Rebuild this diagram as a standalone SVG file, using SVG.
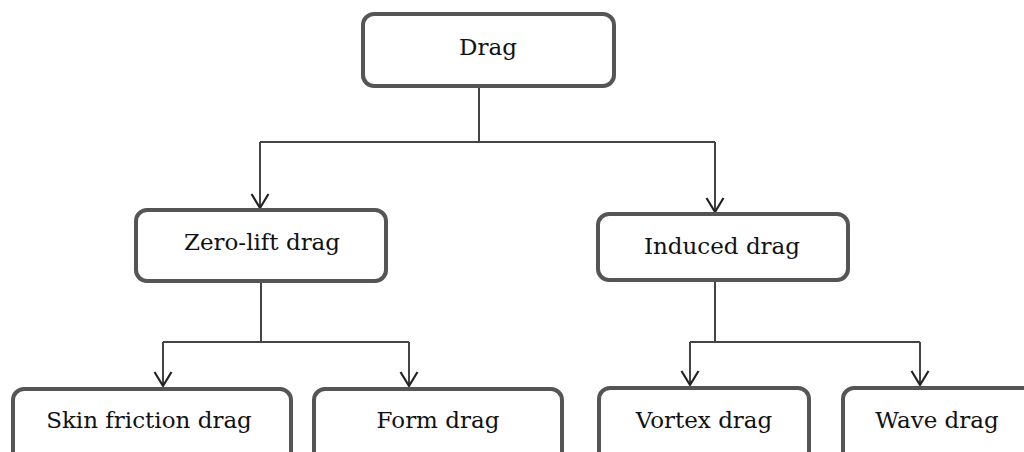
<svg xmlns="http://www.w3.org/2000/svg" width="1024" height="452" viewBox="0 0 1024 452">
<style>
.box{fill:#fff;stroke:#555;stroke-width:4}
.lbl{font-family:"DejaVu Serif","Liberation Serif",serif;font-size:23px;fill:#111;text-anchor:middle}
.con{fill:none;stroke:#444;stroke-width:2}
</style>
<defs>
<marker id="arr" markerWidth="22" markerHeight="22" refX="16" refY="11" orient="auto" markerUnits="userSpaceOnUse" viewBox="0 0 22 22">
<path d="M2,2.5 L16,11 L2,19.5" fill="none" stroke="#222" stroke-width="2.2"/>
</marker>
</defs>
<rect width="1024" height="452" fill="#fff"/>
<g id="connectors">
<path class="con" d="M479,87 V142"/>
<path class="con" d="M260,142 H715"/>
<path class="con" d="M260,142 V208" marker-end="url(#arr)"/>
<path class="con" d="M715,142 V212" marker-end="url(#arr)"/>
<path class="con" d="M261,282 V342"/>
<path class="con" d="M163,342 H409"/>
<path class="con" d="M163,342 V386" marker-end="url(#arr)"/>
<path class="con" d="M409,342 V386" marker-end="url(#arr)"/>
<path class="con" d="M715,281 V342"/>
<path class="con" d="M690,342 H920"/>
<path class="con" d="M690,342 V385" marker-end="url(#arr)"/>
<path class="con" d="M920,342 V385" marker-end="url(#arr)"/>
</g>
<g id="drag">
<rect class="box" x="363" y="14" width="251" height="72" rx="11"/>
<text class="lbl" x="488" y="55">Drag</text>
</g>
<g id="zero-lift">
<rect class="box" x="136" y="210" width="250" height="71" rx="11"/>
<text class="lbl" x="262" y="250">Zero-lift drag</text>
</g>
<g id="induced">
<rect class="box" x="598" y="214" width="250" height="66" rx="11"/>
<text class="lbl" x="722" y="254">Induced drag</text>
</g>
<g id="skin">
<rect class="box" x="13" y="389" width="278" height="80" rx="11"/>
<text class="lbl" x="149" y="428">Skin friction drag</text>
</g>
<g id="form">
<rect class="box" x="314" y="389" width="248" height="80" rx="11"/>
<text class="lbl" x="438" y="428">Form drag</text>
</g>
<g id="vortex">
<rect class="box" x="599" y="388" width="210" height="80" rx="11"/>
<text class="lbl" x="704" y="428">Vortex drag</text>
</g>
<g id="wave">
<rect class="box" x="843" y="388" width="210" height="80" rx="11"/>
<text class="lbl" x="937" y="428">Wave drag</text>
</g>
</svg>
